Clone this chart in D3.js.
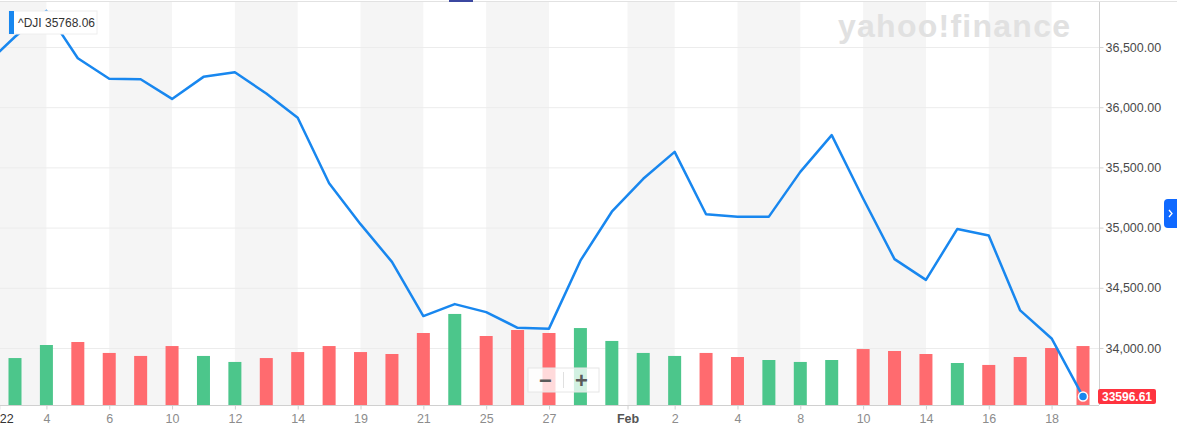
<!DOCTYPE html>
<html>
<head>
<meta charset="utf-8">
<script src="https://cdn.jsdelivr.net/npm/d3@7"></script>
<style>
  body { margin: 0; background: #fff; }
  svg { display: block; font-family: "Liberation Sans", Arial, sans-serif; }
  .axis--x .domain, .axis--y .domain, .grid .domain { display: none; }
  .grid line { stroke: #ececec; }
</style>
</head>
<body>
<div id="chart"></div>
<script>
"use strict";

// trading days shown (Dec 31 sits just off the left edge)
var dates = ["2021-12-31",
    "2022-01-03", "2022-01-04", "2022-01-05", "2022-01-06", "2022-01-07",
    "2022-01-10", "2022-01-11", "2022-01-12", "2022-01-13", "2022-01-14",
    "2022-01-18", "2022-01-19", "2022-01-20", "2022-01-21",
    "2022-01-24", "2022-01-25", "2022-01-26", "2022-01-27", "2022-01-28",
    "2022-01-31", "2022-02-01", "2022-02-02", "2022-02-03", "2022-02-04",
    "2022-02-07", "2022-02-08", "2022-02-09", "2022-02-10", "2022-02-11",
    "2022-02-14", "2022-02-15", "2022-02-16", "2022-02-17", "2022-02-18",
    "2022-02-22"];

var closes = [36338.30,
    36585.06, 36799.65, 36407.11, 36236.47, 36231.66,
    36068.87, 36252.02, 36290.32, 36113.62, 35911.81,
    35368.47, 35028.65, 34715.39, 34265.37,
    34364.50, 34297.73, 34168.09, 34160.78, 34725.47,
    35131.86, 35405.24, 35629.33, 35111.16, 35089.74,
    35091.13, 35462.78, 35768.06, 35241.59, 34738.06,
    34566.17, 34988.84, 34934.27, 34312.03, 34079.18,
    33596.61];

// volume in millions, from Jan 3 on
var volumes = [313, 400, 420, 347, 327,
    393, 327, 287, 313, 353,
    393, 353, 340, 480,
    607, 460, 500, 480, 513,
    427, 347, 327, 347, 320,
    300, 287, 300, 373, 360,
    340, 280, 267, 320, 380,
    393];

var tickDates = ["2022-01-03", "2022-01-04", "2022-01-06", "2022-01-10", "2022-01-12",
    "2022-01-14", "2022-01-19", "2022-01-21", "2022-01-25", "2022-01-27",
    "2022-02-01", "2022-02-02", "2022-02-04", "2022-02-08", "2022-02-10",
    "2022-02-14", "2022-02-16", "2022-02-18"];
var tickLabels = ["2022", "4", "6", "10", "12", "14", "19", "21", "25", "27",
    "Feb", "2", "4", "8", "10", "14", "16", "18"];

var priceTicks = [34000, 34500, 35000, 35500, 36000, 36500];

var W = 1177, H = 437, plotRight = 1099, plotTop = 2, plotBottom = 405;

var x = d3.scaleLinear().domain([1, dates.length - 1]).range([15, 1083]),
    y = d3.scaleLinear().domain([34000, 36500]).range([348, 47]),
    yVol = d3.scaleLinear().domain([0, 2700]).range([plotBottom, 0]);

// month / year labels sit between two trading days
function isPeriod(label) {
    return label.length > 2;
}
var tickPos = tickDates.map(function(d, i) {
    var idx = dates.indexOf(d);
    return isPeriod(tickLabels[i]) ? idx - 0.5 : idx;
});

var svg = d3.select("#chart").append("svg")
    .attr("width", W)
    .attr("height", H);

svg.append("defs").append("clipPath").attr("id", "plot")
    .append("rect")
    .attr("x", 0).attr("y", plotTop)
    .attr("width", plotRight).attr("height", plotBottom - plotTop);

// alternating column shading
var bands = d3.range(0, tickPos.length - 1, 2);
svg.selectAll(".band")
    .data(bands)
    .enter()
    .append("rect")
    .attr("class", "band")
    .attr("x", k => x(tickPos[k]))
    .attr("y", plotTop)
    .attr("width", k => x(tickPos[k + 1]) - x(tickPos[k]))
    .attr("height", plotBottom - plotTop)
    .attr("fill", "#f5f5f5");

svg.append("g")
    .attr("class", "grid")
    .attr("transform", "translate(" + plotRight + ",0)")
    .call(d3.axisLeft(y).tickValues(priceTicks).tickSize(plotRight).tickFormat(""));

svg.append("line")
    .attr("x1", 0).attr("x2", W)
    .attr("y1", 1.5).attr("y2", 1.5)
    .attr("stroke", "#e2e2e2");

svg.append("text")
    .attr("x", 954).attr("y", 37)
    .attr("text-anchor", "middle")
    .attr("font-size", 32)
    .attr("font-weight", 900)
    .attr("textLength", 232)
    .attr("fill", "#e1e1e1")
    .text("yahoo!finance");

// volume
svg.append("g")
    .attr("clip-path", "url(#plot)")
    .selectAll(".bar")
    .data(volumes)
    .enter()
    .append("rect")
    .attr("class", "bar")
    .attr("x", (d, i) => x(i + 1) - 6.5)
    .attr("y", d => yVol(d))
    .attr("width", 13)
    .attr("height", d => plotBottom - yVol(d))
    .attr("fill", (d, i) => closes[i + 1] >= closes[i] ? "#4cc68b" : "#ff6b6f");

// axes
svg.append("line")
    .attr("x1", 0).attr("x2", plotRight)
    .attr("y1", plotBottom + 0.5).attr("y2", plotBottom + 0.5)
    .attr("stroke", "#d0d0d0");
svg.append("line")
    .attr("x1", plotRight + 0.5).attr("x2", plotRight + 0.5)
    .attr("y1", plotTop).attr("y2", plotBottom)
    .attr("stroke", "#d0d0d0");

var xAxis = svg.append("g")
    .attr("class", "axis axis--x")
    .attr("transform", "translate(0," + (plotBottom + 0.5) + ")")
    .call(d3.axisBottom(x).tickValues(tickPos).tickSize(4).tickPadding(5)
        .tickFormat((d, i) => tickLabels[i]));
xAxis.selectAll(".tick line").attr("stroke", "#d0d0d0");
xAxis.selectAll(".tick text")
    .attr("font-size", 12.5)
    .attr("fill", (d, i) => tickLabels[i] === "2022" ? "#333" : (tickLabels[i] === "Feb" ? "#555" : "#8c8c8c"))
    .attr("font-weight", (d, i) => tickLabels[i] === "Feb" ? "bold" : "normal");

var yAxis = svg.append("g")
    .attr("class", "axis axis--y")
    .attr("transform", "translate(" + (plotRight + 0.5) + ",0)")
    .call(d3.axisRight(y).tickValues(priceTicks).tickSize(4).tickPadding(2)
        .tickFormat(d3.format(",.2f")));
yAxis.selectAll(".tick line").attr("stroke", "#d0d0d0");
yAxis.selectAll(".tick text").attr("font-size", 12.5).attr("fill", "#4a4a4a");

// price line
var line = d3.line()
    .x((d, i) => x(i))
    .y(d => y(d));

svg.append("path")
    .datum(closes)
    .attr("clip-path", "url(#plot)")
    .attr("fill", "none")
    .attr("stroke", "#1887ef")
    .attr("stroke-width", 2.5)
    .attr("stroke-linejoin", "round")
    .attr("d", line);

var last = closes.length - 1;
svg.append("circle")
    .attr("cx", x(last)).attr("cy", y(closes[last]))
    .attr("r", 4.5)
    .attr("fill", "#1887ef")
    .attr("stroke", "#fff")
    .attr("stroke-width", 1.5);

var tag = svg.append("g")
    .attr("transform", "translate(" + (plotRight - 1) + "," + y(closes[last]) + ")");
tag.append("rect")
    .attr("x", 0).attr("y", -7.5)
    .attr("width", 58).attr("height", 15)
    .attr("rx", 2)
    .attr("fill", "#ff333f");
tag.append("text")
    .attr("x", 29).attr("dy", "0.35em")
    .attr("text-anchor", "middle")
    .attr("font-size", 12)
    .attr("font-weight", "bold")
    .attr("fill", "#fff")
    .text(closes[last].toFixed(2));

// legend tag top left
var legend = svg.append("g").attr("transform", "translate(9,11)");
legend.append("rect")
    .attr("x", 0).attr("y", 0)
    .attr("width", 88).attr("height", 23)
    .attr("fill", "#fff")
    .attr("stroke", "#eee");
legend.append("rect")
    .attr("width", 5).attr("height", 23)
    .attr("fill", "#1887ef");
legend.append("text")
    .attr("x", 9).attr("y", 12).attr("dy", "0.35em")
    .attr("font-size", 12)
    .attr("fill", "#333")
    .text("^DJI " + closes[27].toFixed(2));

// zoom buttons
var zoom = svg.append("g").attr("transform", "translate(528,368)");
zoom.append("rect")
    .attr("width", 71).attr("height", 24)
    .attr("fill", "rgba(255,255,255,0.75)")
    .attr("stroke", "#e6e6e6");
zoom.append("line")
    .attr("x1", 35.5).attr("x2", 35.5).attr("y1", 4).attr("y2", 20)
    .attr("stroke", "#e0e0e0");
zoom.selectAll(".zb")
    .data(["\u2212", "+"])
    .enter()
    .append("text")
    .attr("class", "zb")
    .attr("x", (d, i) => 17.5 + i * 36)
    .attr("y", 12).attr("dy", "0.36em")
    .attr("text-anchor", "middle")
    .attr("font-size", 22)
    .attr("font-weight", "bold")
    .attr("fill", "#5a5a5a")
    .text(d => d);

// side button
svg.append("path")
    .attr("d", "M1177,199 H1168 Q1164,199 1164,203 V224 Q1164,228 1168,228 H1177 Z")
    .attr("fill", "#0f69ff");
svg.append("path")
    .attr("d", "M1169,210 L1172,213.5 L1169,217")
    .attr("fill", "none")
    .attr("stroke", "#fff")
    .attr("stroke-width", 1.3);

svg.append("rect")
    .attr("x", 449).attr("y", 0)
    .attr("width", 24).attr("height", 2)
    .attr("fill", "#3b47a0");
</script>
</body>
</html>
